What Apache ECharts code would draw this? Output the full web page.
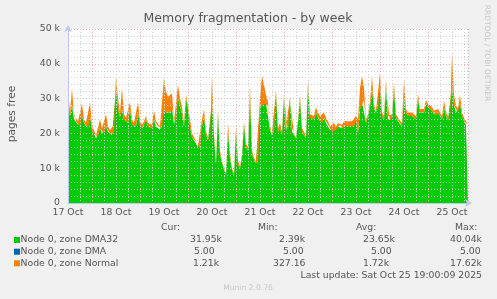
<!DOCTYPE html>
<html><head><meta charset="utf-8">
<script src="https://cdn.jsdelivr.net/npm/echarts@6/dist/echarts.min.js"></script>
<style>html,body{margin:0;padding:0;background:#F0F0F0;}#c{width:497px;height:299px;}</style>
</head><body><div id="c"></div>
<script>
// x positions are hours since 17 Oct 00:00, one sample per hour
const dayLabels = ['17 Oct','18 Oct','19 Oct','20 Oct','21 Oct','22 Oct','23 Oct','24 Oct','25 Oct'];
// Node 0, zone DMA32 (thousand pages)
const dma32 = [
26.5,25,28,24,23.5,22.5,22,25,23,22,
21.5,25,21,20,18.5,19,21.5,20,20,22,
20.5,20,19.5,20,32.5,27.5,24.5,27,24,23.5,
23,27,22.5,22,22,26,22.5,21.5,22.5,24,
22,21.5,21.5,24,22,22,21,21.5,27,26,
26,26,27,22.5,22.5,30,28,25.5,22,30,
27,22,19,18,17.5,16,15.5,22,25,19.5,
18,17.5,29,19,11,25.5,14,11.5,9.5,8,
20.5,13,9.5,8,21,11,10,13,22.5,16,
15,30,14,12.5,11.5,11,27,28.5,28.5,28.5,
28,21,19.5,20,31,20.5,21.5,19.5,30.5,20.5,
20,29.5,20.5,20,18.5,23,30,20.5,19.5,18.5,
33.5,24.5,24,24,26,24.5,23.5,23,24.5,23,
22.5,21,20.5,21.5,21,22,22.5,21.5,22.5,22,
22.5,22,22.5,22,24,20,27,29,29.5,23,
25,27.5,33,27,26,26.5,33.5,25,24,33,
24,23.5,24.5,32.5,24.5,23.5,23,22,30.5,26,
25,24.5,25,24.5,24,30,26,25.5,26,28.5,
27.5,27,26.5,25.5,25,26,25,24,27.5,25,
24,23.5,33.5,28,26,26,28.5,25,23.5,22.5,
22.5];
// Node 0, zone Normal (thousand pages), stacked on DMA32
const normal = [
6.5,1,5,1,1,1,1,3.5,1,1,
1,4,1,1,1,1,2.5,1.5,1,3.5,
1.5,1,1.5,2.5,4,2.5,1.5,6,1.5,1,
1,2,1.5,1,1,3,1,1,1,1,
1,1,1,2.5,1.5,1,1,1,9,6,
4.5,4,4.5,1,0.5,4,2,2,1,1,
1,2,1,1,1.5,0.5,0.5,2,2,1,
1,0.5,8,1,0.5,1.5,1,0.5,0.5,0.5,
2.5,1,0.5,0.5,1,1,0.5,1,1,1,
1,4,1,0.5,0.5,0.5,3,8,5.5,2.5,
1,1,0.5,0.5,1.5,1,1.5,1,1,1,
1,1,1,1,0.5,1,1,1,1,0.5,
2,1,1,1,1.5,1.5,1.5,1.5,1.5,1.5,
1,1,1,1.5,1,1,1,1,1,1,
1,1,1,1,1,4,6,7.5,3.5,1,
0.5,1.5,3.5,1,0.5,0.5,4,1,1,2.5,
1,1,1,2,1,1,1,1,5,1,
1,1,1,1,1,1.5,1,1,1,1,
1,1,1,1,1,1,1,1,2,1,
1,0.5,10,3,2,1,2.5,1,1,1,
0.5];
const hours = dma32.map((_, i) => i);

const legendNames = ['Node 0, zone DMA32','Node 0, zone DMA','Node 0, zone Normal'];
const legendColors = ['#00CC00','#0066B3','#FF8000'];
const colHeaders = ['Cur:','Min:','Avg:','Max:'];
const curVals = ['31.95k','5.00','1.21k'];
const minVals = ['2.39k','5.00','327.16'];
const avgVals = ['23.65k','5.00','1.72k'];
const maxVals = ['40.04k','5.00','17.62k'];

const FONT = 'DejaVu Sans';
const TXT = '#555555';
const GRIDC = '#cfcfcf';
const MGRIDC = '#eeaaaa';

const graphics = [];
function txt(text, x, y, size, color, align, rot) {
  graphics.push({type:'text', x:x, y:y, rotation: rot || 0, z: 10,
    style:{text:text, fill:color, fontSize:size, fontFamily:FONT, align:align||'left', verticalAlign:'middle'}});
}
txt('Memory fragmentation - by week', 248, 19, 12.5, TXT, 'center');
txt('pages free', 12, 114, 10.7, TXT, 'center', Math.PI/2);
txt('RRDTOOL / TOBI OETIKER', 487, 53, 7.5, '#c8c8c8', 'center', -Math.PI/2);
const headX = [161, 258, 356, 455];
colHeaders.forEach((h, i) => txt(h, headX[i], 227.5, 9.3, TXT));
const rowY = [240, 251.7, 263.3];
const cellX = [[190,279,363,450],[194,283,371,460],[193,273,363,450]];
legendNames.forEach((n, r) => {
  graphics.push({type:'rect', shape:{x:14, y:rowY[r]-3, width:6, height:6}, style:{fill:legendColors[r]}, z:10});
  txt(n, 20.5, rowY[r], 9.3, TXT);
  [curVals, minVals, avgVals, maxVals].forEach((col, c) => txt(col[r], cellX[r][c], rowY[r], 9.3, TXT));
});
txt('Last update: Sat Oct 25 19:00:09 2025', 482, 275.5, 9.3, TXT, 'right');
txt('Munin 2.0.76', 248, 288.3, 7.6, '#c8c8c8', 'center');

const chart = echarts.init(document.getElementById('c'), null, {renderer:'canvas'});
chart.setOption({
  backgroundColor: '#F0F0F0',
  animation: false,
  grid: {left: 68, top: 29, width: 400, height: 174, show: true, backgroundColor: '#ffffff', borderWidth: 0, containLabel: false},
  xAxis: [
    {type: 'category', data: hours, boundaryGap: false, show: false, position: 'top'},
    {type: 'value', min: 0, max: 200, interval: 6, position: 'bottom', z: 3,
     axisLine: {show: true, onZero: false, lineStyle: {color: '#c0c8f0', width: 1},
                symbol: ['none', 'arrow'], symbolSize: [6, 7], symbolOffset: [0, 4]},
     axisTick: {show: false},
     axisLabel: {color: TXT, fontSize: 9.3, fontFamily: FONT, margin: 5, showMinLabel: true, showMaxLabel: true,
                 formatter: v => (v % 24 === 0 && dayLabels[v / 24]) ? dayLabels[v / 24] : ''},
     splitLine: {show: true, lineStyle: {color: [GRIDC, GRIDC, MGRIDC, GRIDC], type: [1, 2], width: 1}}}
  ],
  yAxis: {type: 'value', min: 0, max: 50, interval: 2, z: 3,
    axisLine: {show: true, onZero: false, lineStyle: {color: '#c0c8f0', width: 1},
               symbol: ['none', 'arrow'], symbolSize: [6, 7], symbolOffset: [0, 4]},
    axisTick: {show: false},
    axisLabel: {color: TXT, fontSize: 9.3, fontFamily: FONT, margin: 8,
                formatter: v => v % 10 === 0 ? (v === 0 ? '0' : v + ' k') : ''},
    splitLine: {show: true, lineStyle: {color: [MGRIDC, GRIDC, GRIDC, GRIDC, GRIDC], type: [1, 2], width: 1}}},
  series: [
    {name: 'Node 0, zone DMA32', type: 'line', xAxisIndex: 0, stack: 'mem', data: dma32, symbol: 'none',
     lineStyle: {width: 0}, itemStyle: {color: '#00CC00'}, areaStyle: {color: '#00CC00', opacity: 1}, z: 2},
    {name: 'Node 0, zone Normal', type: 'line', xAxisIndex: 0, stack: 'mem', data: normal, symbol: 'none',
     lineStyle: {width: 0}, itemStyle: {color: '#FF8000'}, areaStyle: {color: '#FF8000', opacity: 1}, z: 2}
  ],
  graphic: graphics
});
</script></body></html>
